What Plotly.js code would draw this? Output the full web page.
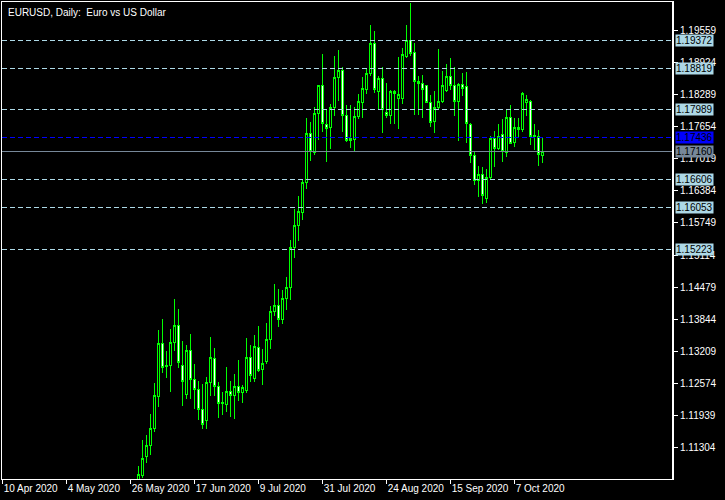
<!DOCTYPE html>
<html><head><meta charset="utf-8">
<script src="https://cdn.plot.ly/plotly-3.0.1.min.js"></script>
<style>
html,body{margin:0;padding:0;background:#000;}
#chart{width:725px;height:500px;}
#chart path{shape-rendering:crispEdges;}
</style></head><body><div id="chart"></div>
<script>
// ---- data (EURUSD daily) ----
const dates = [
'2020-05-28','2020-05-29',
'2020-06-01','2020-06-02','2020-06-03','2020-06-04','2020-06-05',
'2020-06-08','2020-06-09','2020-06-10','2020-06-11','2020-06-12',
'2020-06-15','2020-06-16','2020-06-17','2020-06-18','2020-06-19',
'2020-06-22','2020-06-23','2020-06-24','2020-06-25','2020-06-26',
'2020-06-29','2020-06-30','2020-07-01','2020-07-02','2020-07-03',
'2020-07-06','2020-07-07','2020-07-08','2020-07-09','2020-07-10',
'2020-07-13','2020-07-14','2020-07-15','2020-07-16','2020-07-17',
'2020-07-20','2020-07-21','2020-07-22','2020-07-23','2020-07-24',
'2020-07-27','2020-07-28','2020-07-29','2020-07-30','2020-07-31',
'2020-08-03','2020-08-04','2020-08-05','2020-08-06','2020-08-07',
'2020-08-10','2020-08-11','2020-08-12','2020-08-13','2020-08-14',
'2020-08-17','2020-08-18','2020-08-19','2020-08-20','2020-08-21',
'2020-08-24','2020-08-25','2020-08-26','2020-08-27','2020-08-28',
'2020-08-31','2020-09-01','2020-09-02','2020-09-03','2020-09-04',
'2020-09-07','2020-09-08','2020-09-09','2020-09-10','2020-09-11',
'2020-09-14','2020-09-15','2020-09-16','2020-09-17','2020-09-18',
'2020-09-21','2020-09-22','2020-09-23','2020-09-24','2020-09-25',
'2020-09-28','2020-09-29','2020-09-30','2020-10-01','2020-10-02',
'2020-10-05','2020-10-06','2020-10-07','2020-10-08','2020-10-09',
'2020-10-12','2020-10-13','2020-10-14','2020-10-15','2020-10-16'];

const opens = [
1.1006,1.1074,
1.1113,1.1134,1.1167,1.1232,1.1336,
1.1290,1.1293,1.1339,1.1372,1.1293,
1.1235,1.1323,1.1264,1.1244,1.1206,
1.1183,1.1259,1.1307,1.1251,1.1217,
1.1216,1.1241,1.1233,1.1251,1.1239,
1.1243,1.1309,1.1267,1.1329,1.1285,
1.1301,1.1344,1.1400,1.1412,1.1384,
1.1426,1.1447,1.1527,1.1570,1.1596,
1.1655,1.1753,1.1714,1.1792,1.1848,
1.1770,1.1764,1.1804,1.1864,1.1877,
1.1787,1.1742,1.1741,1.1785,1.1814,
1.1840,1.1871,1.1931,1.1835,1.1862,
1.1794,1.1788,1.1836,1.1822,1.1821,
1.1904,1.1937,1.1913,1.1855,1.1852,
1.1848,1.1814,1.1776,1.1804,1.1815,
1.1837,1.1866,1.1848,1.1815,1.1850,
1.1845,1.1770,1.1708,1.1659,1.1671,
1.1624,1.1665,1.1743,1.1723,1.1751,
1.1714,1.1784,1.1734,1.1761,1.1761,
1.1813,1.1815,1.1746,1.1746,1.1708];

const highs = [
1.1093,1.1145,
1.1155,1.1197,1.1257,1.1363,1.1384,
1.1321,1.1364,1.1424,1.1404,1.1341,
1.1333,1.1355,1.1296,1.1262,1.1256,
1.1269,1.1349,1.1327,1.1260,1.1240,
1.1289,1.1262,1.1276,1.1303,1.1253,
1.1347,1.1333,1.1353,1.1371,1.1325,
1.1377,1.1410,1.1454,1.1444,1.1443,
1.1468,1.1541,1.1603,1.1628,1.1663,
1.1782,1.1775,1.1805,1.1849,1.1910,
1.1799,1.1811,1.1906,1.1918,1.1884,
1.1809,1.1809,1.1804,1.1830,1.1865,
1.1881,1.1967,1.1955,1.1867,1.1883,
1.1852,1.1839,1.1838,1.1904,1.1921,
1.1967,1.2011,1.1931,1.1866,1.1868,
1.1849,1.1829,1.1837,1.1920,1.1877,
1.1890,1.1902,1.1883,1.1852,1.1873,
1.1875,1.1773,1.1718,1.1688,1.1685,
1.1681,1.1747,1.1757,1.1771,1.1780,
1.1800,1.1808,1.1783,1.1783,1.1834,
1.1829,1.1819,1.1772,1.1759,1.1746];

const lows = [
1.0990,1.1070,
1.1100,1.1115,1.1160,1.1211,1.1278,
1.1268,1.1241,1.1322,1.1288,1.1213,
1.1227,1.1227,1.1207,1.1185,1.1167,
1.1167,1.1233,1.1233,1.1189,1.1194,
1.1200,1.1191,1.1186,1.1223,1.1219,
1.1238,1.1260,1.1259,1.1280,1.1254,
1.1295,1.1325,1.1391,1.1369,1.1374,
1.1402,1.1422,1.1506,1.1540,1.1581,
1.1642,1.1698,1.1710,1.1740,1.1756,
1.1696,1.1722,1.1786,1.1817,1.1756,
1.1736,1.1723,1.1716,1.1780,1.1782,
1.1830,1.1866,1.1833,1.1800,1.1754,
1.1782,1.1772,1.1771,1.1762,1.1811,
1.1902,1.1906,1.1789,1.1789,1.1782,
1.1812,1.1766,1.1754,1.1800,1.1812,
1.1834,1.1838,1.1787,1.1737,1.1826,
1.1733,1.1693,1.1650,1.1627,1.1612,
1.1615,1.1660,1.1685,1.1720,1.1696,
1.1706,1.1733,1.1725,1.1745,1.1756,
1.1787,1.1729,1.1720,1.1688,1.1694];

const closes = [
1.1076,1.1109,
1.1134,1.1168,1.1234,1.1336,1.1288,
1.1293,1.1339,1.1372,1.1299,1.1261,
1.1323,1.1264,1.1244,1.1206,1.1176,
1.1259,1.1309,1.1251,1.1217,1.1219,
1.1241,1.1233,1.1251,1.1239,1.1249,
1.1309,1.1273,1.1331,1.1283,1.1297,
1.1344,1.1400,1.1412,1.1384,1.1426,
1.1448,1.1527,1.1570,1.1597,1.1655,
1.1753,1.1716,1.1792,1.1848,1.1772,
1.1762,1.1804,1.1864,1.1878,1.1787,
1.1739,1.1739,1.1786,1.1815,1.1842,
1.1871,1.1931,1.1840,1.1862,1.1799,
1.1788,1.1836,1.1832,1.1830,1.1908,
1.1937,1.1911,1.1855,1.1852,1.1840,
1.1814,1.1774,1.1804,1.1816,1.1848,
1.1866,1.1847,1.1815,1.1850,1.1842,
1.1772,1.1708,1.1659,1.1671,1.1629,
1.1665,1.1743,1.1723,1.1746,1.1716,
1.1784,1.1733,1.1765,1.1764,1.1831,
1.1819,1.1746,1.1748,1.1710,1.1716];

// axis ticks
const xTickDates  = ['2020-04-10','2020-05-04','2020-05-26','2020-06-17','2020-07-09','2020-07-31','2020-08-24','2020-09-15','2020-10-07'];
const xTickLabels = ['10 Apr 2020','4 May 2020','26 May 2020','17 Jun 2020','9 Jul 2020','31 Jul 2020','24 Aug 2020','15 Sep 2020','7 Oct 2020'];
const yTickValues = [1.11304,1.11939,1.12574,1.13209,1.13844,1.14479,1.15114,1.15749,1.16384,1.17019,1.17654,1.18289,1.18924,1.19559];

// horizontal price levels
const levelPrices = [1.19372,1.18819,1.17989,1.16606,1.16053,1.15223];
const pivotPrice = 1.17436;
const bidPrice = 1.17160;

// ---- chart ----
const startDate = '2020-04-10';
function tradingIndex(d){
  const base = Date.parse(startDate+'T00:00:00Z');
  const t = Date.parse(d+'T00:00:00Z');
  let n = 0;
  for(let u = base + 86400000; u <= t; u += 86400000){
    const wd = new Date(u).getUTCDay();
    if(wd !== 0 && wd !== 6) n++;
  }
  return n;
}
const xs = dates.map(tradingIndex);
const xTickVals = xTickDates.map(tradingIndex);

const GREEN = '#00FF00';
const FONT = 'Tahoma, "Liberation Sans", Arial, sans-serif';

const trace = {
  type:'candlestick', x: xs, open: opens, high: highs, low: lows, close: closes,
  increasing:{line:{color:GREEN,width:1}, fillcolor:'#000000'},
  decreasing:{line:{color:GREEN,width:1}, fillcolor:'#FFFFFF'},
  whiskerwidth:0, hoverinfo:'skip', showlegend:false
};

const shapes = [];
const annotations = [];
levelPrices.forEach(p=>{
  shapes.push({type:'line', xref:'paper', x0:0, x1:1, yref:'y', y0:p, y1:p,
    line:{color:'#ADD8E6', width:1, dash:'5px,3px'}, layer:'above'});
  annotations.push({xref:'paper', x:1, xanchor:'left', xshift:2, yref:'y', y:p, yanchor:'middle',
    text:p.toFixed(5), showarrow:false, bgcolor:'#ADD8E6', borderpad:0,
    font:{family:FONT, size:10, color:'#000000'}});
});
shapes.push({type:'line', xref:'paper', x0:0, x1:1, yref:'y', y0:pivotPrice, y1:pivotPrice,
  line:{color:'#0000FF', width:1, dash:'5px,3px'}, layer:'above'});
annotations.push({xref:'paper', x:1, xanchor:'left', xshift:2, yref:'y', y:pivotPrice, yanchor:'middle',
  text:pivotPrice.toFixed(5), showarrow:false, bgcolor:'#0000FF', borderpad:0,
  font:{family:FONT, size:10, color:'#000000'}});
shapes.push({type:'line', xref:'paper', x0:0, x1:1, yref:'y', y0:bidPrice, y1:bidPrice,
  line:{color:'#778899', width:1}, layer:'above'});
annotations.push({xref:'paper', x:1, xanchor:'left', xshift:2, yref:'y', y:bidPrice, yanchor:'middle',
  text:bidPrice.toFixed(5), showarrow:false, bgcolor:'#778899', borderpad:0,
  font:{family:FONT, size:10, color:'#000000'}});
// right price-scale border (slightly heavier, as in the terminal)
shapes.push({type:'line', xref:'paper', x0:1, x1:1, yref:'paper', y0:0, y1:1,
  line:{color:'#FFFFFF', width:2}, layer:'above'});
annotations.push({xref:'paper', x:0, xanchor:'left', xshift:4, yref:'paper', y:1, yanchor:'top', yshift:-3,
  text:'EURUSD, Daily:\u00a0 Euro vs US Dollar', showarrow:false,
  font:{family:FONT, size:10, color:'#FFFFFF'}});

const layout = {
  width:725, height:500,
  paper_bgcolor:'#000000', plot_bgcolor:'#000000',
  margin:{l:2, r:52, t:2, b:21, pad:0},
  showlegend:false, boxgap:0.45, dragmode:false,
  xaxis:{
    range:[-0.175, 167.575], showgrid:false, zeroline:false,
    showline:true, linecolor:'#FFFFFF', linewidth:1, mirror:true,
    ticks:'outside', ticklen:4, tickcolor:'#FFFFFF', tickwidth:1,
    tickvals:xTickVals, ticktext:xTickLabels, ticklabelposition:'outside right',
    tickangle:0, automargin:false,
    tickfont:{family:FONT, size:10, color:'#FFFFFF'},
    rangeslider:{visible:false}, fixedrange:true
  },
  yaxis:{
    side:'right', range:[1.106764, 1.201277], showgrid:false, zeroline:false,
    showline:true, linecolor:'#FFFFFF', linewidth:1, mirror:true,
    ticks:'outside', ticklen:4, tickcolor:'#FFFFFF', tickwidth:1,
    tickvals:yTickValues, ticktext:yTickValues.map(v=>v.toFixed(5)),
    tickfont:{family:FONT, size:10, color:'#FFFFFF'}, fixedrange:true, automargin:false
  },
  shapes:shapes, annotations:annotations
};

Plotly.newPlot('chart', [trace], layout, {staticPlot:true, displayModeBar:false});
</script>
</body></html>
